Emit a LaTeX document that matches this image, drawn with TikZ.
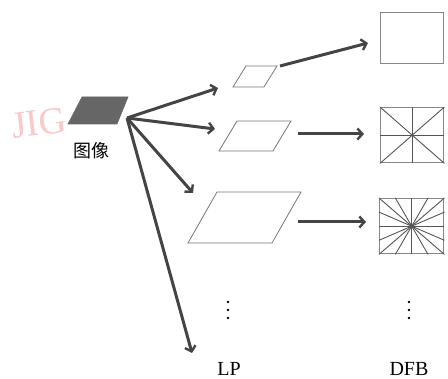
\documentclass[tikz,border=0pt]{standalone}
\usepackage{fontspec}
\setmainfont{Liberation Serif}
\newfontfamily\cjk{Noto Sans CJK SC}
\usetikzlibrary{arrows.meta,calc}
\definecolor{arr}{HTML}{444444}
\definecolor{outl}{HTML}{777777}
\definecolor{boxc}{HTML}{888888}
\definecolor{inl}{HTML}{555555}
\definecolor{wm}{HTML}{F9C9C9}
\tikzset{
  bigarrow/.style={draw=arr, line width=3pt, -{Straight Barb[length=5pt,width=11pt,line width=2.4pt]}},
  para/.style={draw=outl, line width=0.8pt},
  fbox/.style={draw=boxc, line width=1.4pt},
  inner/.style={draw=inl, line width=0.9pt},
  lbl/.style={font=\fontsize{20}{22}\selectfont, inner sep=0pt},
  dots/.style={fill=black, circle, inner sep=0pt, minimum size=2.8pt}
}
\begin{document}
\begin{tikzpicture}[x=1pt,y=-1pt]
\useasboundingbox (0,0) rectangle (448,379);
% watermark
\node[text=wm, font=\fontsize{38}{38}\selectfont, rotate=7, inner sep=0pt] (wmk) at (39,123) {JIG};
% source image
\filldraw[fill=black!60, draw=black!60, line width=0.6pt] (68,124) -- (117,124) -- (128,97) -- (82,97) -- cycle;
\coordinate (src) at (127,118);
\node[lbl, font=\cjk\fontsize{18}{19}\selectfont] (img) at (92,151) {图像};
% LP parallelograms
\draw[para] (233,87) -- (264,87) -- (277,66) -- (246,66) -- cycle;
\draw[para] (219,151) -- (273,151) -- (291,121) -- (237,121) -- cycle;
\draw[para] (188,243) -- (272,243) -- (301,192) -- (217,192) -- cycle;
\coordinate (p1) at (280,66);
\coordinate (p2) at (298,134);
\coordinate (p3) at (298,222);
% arrows from source
\coordinate (t1) at (218,88);
\coordinate (t2) at (215,129);
\coordinate (t3) at (193,193);
\coordinate (t4) at (192,353);
\draw[bigarrow] (src) -- (t1);
\draw[bigarrow] (src) -- (t2);
\draw[bigarrow] (src) -- (t3);
\draw[bigarrow] (src) -- (t4);
% DFB boxes
\node[fbox, minimum width=63pt, minimum height=51pt, inner sep=0pt, anchor=north west] (b1) at (380,12) {};
\node[fbox, minimum width=63pt, minimum height=55pt, inner sep=0pt, anchor=north west] (b2) at (380,107) {};
\node[fbox, minimum width=64pt, minimum height=55pt, inner sep=0pt, anchor=north west] (b3) at (379,198) {};
% box 2 lines
\draw[inner] (b2.north) -- (b2.south);
\draw[inner] (b2.west) -- (b2.east);
\draw[inner] (b2.north west) -- (b2.south east);
\draw[inner] (b2.north east) -- (b2.south west);
% box 3 lines
\draw[inner] (b3.north) -- (b3.south);
\draw[inner] (b3.west) -- (b3.east);
\draw[inner] (b3.north west) -- (b3.south east);
\draw[inner] (b3.north east) -- (b3.south west);
\draw[inner] ($(b3.north west)!0.25!(b3.north east)$) -- ($(b3.south west)!0.75!(b3.south east)$);
\draw[inner] ($(b3.north west)!0.75!(b3.north east)$) -- ($(b3.south west)!0.25!(b3.south east)$);
\draw[inner] ($(b3.north west)!0.25!(b3.south west)$) -- ($(b3.north east)!0.75!(b3.south east)$);
\draw[inner] ($(b3.north west)!0.75!(b3.south west)$) -- ($(b3.north east)!0.25!(b3.south east)$);
% arrows to boxes
\draw[bigarrow] (p1) -- (368,43);
\draw[bigarrow] (p2) -- (364,134);
\draw[bigarrow] (p3) -- (366,222);
% dots
\foreach \y in {302,310,318} {
  \node[dots] at (228,\y) {};
  \node[dots] at (409,\y) {};
}
% labels
\node[lbl] (lp) at (229,369) {LP};
\node[lbl] (dfb) at (409,369) {DFB};
\end{tikzpicture}
\end{document}
